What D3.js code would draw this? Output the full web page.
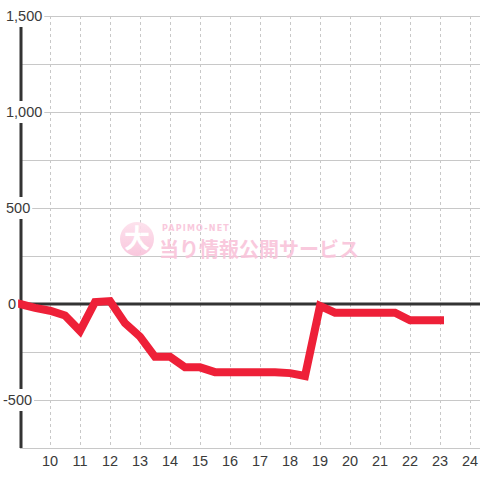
<!DOCTYPE html>
<html><head><meta charset="utf-8">
<script src="https://cdn.jsdelivr.net/npm/d3@7"></script>
<style>html,body{margin:0;padding:0;background:#fff;}svg{display:block;}</style>
</head><body>
<script>
const hours = [9,9.5,10,10.5,11,11.5,12,12.5,13,13.5,14,14.5,15,15.5,16,16.5,17,17.5,18,18.5,19,19.5,20,20.5,21,21.5,22,22.5,23];
const values = [0,-20,-35,-60,-140,10,15,-100,-170,-275,-275,-330,-330,-355,-355,-355,-355,-355,-360,-375,-10,-45,-45,-45,-45,-45,-85,-85,-85];
const xTicks = [10,11,12,13,14,15,16,17,18,19,20,21,22,23,24];
const yGrid = [-500,-250,0,250,500,750,1000,1250,1500];
const yLabels = [-500,0,500,1000,1500];

const W=480,H=480;
const x = d3.scaleLinear().domain([9, 9+460/30]).range([20,480]);
const y = d3.scaleLinear().domain([-750,1500]).range([448,16]);
const svg = d3.select("body").append("svg").attr("width",W).attr("height",H);
svg.append("rect").attr("width",W).attr("height",H).attr("fill","#fff");

// horizontal grid
svg.append("g").selectAll("line").data(yGrid).join("line")
  .attr("x1",20).attr("x2",480).attr("y1",d=>y(d)).attr("y2",d=>y(d))
  .attr("stroke","#c8c8c8").attr("stroke-width",1).attr("shape-rendering","crispEdges");
// vertical dashed grid
svg.append("g").selectAll("line").data(xTicks).join("line")
  .attr("x1",d=>x(d)).attr("x2",d=>x(d)).attr("y1",16).attr("y2",448)
  .attr("stroke","#c8c8c8").attr("stroke-width",1).attr("stroke-dasharray","3,3").attr("shape-rendering","crispEdges");
// bottom axis line
svg.append("line").attr("x1",20).attr("x2",480).attr("y1",448.5).attr("y2",448.5).attr("stroke","#c8c8c8");

// watermark
const wm = svg.append("g").attr("opacity",0.9);
const grad = svg.append("defs").append("linearGradient").attr("id","wg").attr("x1","0").attr("y1","0").attr("x2","0").attr("y2","1");
grad.append("stop").attr("offset","0").attr("stop-color","#fde0ec");
grad.append("stop").attr("offset","1").attr("stop-color","#f9c2da");
wm.append("circle").attr("cx",137).attr("cy",239).attr("r",17).attr("fill","url(#wg)");
wm.append("text").attr("x",137).attr("y",248).attr("text-anchor","middle").attr("font-family","Noto Sans CJK JP").attr("font-weight","bold").attr("font-size",26).attr("fill","#fff").text("大");
wm.append("text").attr("x",162).attr("y",231).attr("font-family","DejaVu Sans").attr("font-weight","bold").attr("font-size",8).attr("letter-spacing",1.2).attr("fill","#f9c4da").text("PAPIMO-NET");
wm.append("text").attr("x",159).attr("y",257).attr("font-family","Noto Sans CJK JP").attr("font-weight","bold").attr("font-size",20).attr("fill","#f9c4da").text("当り情報公開サービス");

// zero line
svg.append("line").attr("x1",20).attr("x2",480).attr("y1",y(0)).attr("y2",y(0)).attr("stroke","#333").attr("stroke-width",3);

// y axis line
svg.append("line").attr("x1",21).attr("x2",21).attr("y1",16).attr("y2",448).attr("stroke","#333").attr("stroke-width",3);

// data line
const line = d3.line().x((d,i)=>x(hours[i])).y(d=>y(d));
svg.append("path").attr("d",line(values)).attr("fill","none").attr("stroke","#ee2038")
  .attr("stroke-width",8).attr("stroke-linejoin","miter").attr("stroke-linecap","square");

// y labels with background
const fmt = d3.format(",");
const yl = svg.append("g").selectAll("g").data(yLabels).join("g");
yl.each(function(d){
  const g=d3.select(this);
  const t=g.append("text").attr("x",d===0?8:(d<0?3:6)).attr("y",y(d)+5).attr("font-family","Liberation Sans, Arial, sans-serif").attr("font-size",14.5).attr("fill","#3a3a3a").text(fmt(d).replace("−","-"));
  const bb=t.node().getBBox();
  g.insert("rect","text").attr("x",bb.x-2).attr("y",y(d)-11).attr("width",bb.width+4).attr("height",22).attr("fill","#fff");
});

// x labels
svg.append("g").selectAll("text").data(xTicks).join("text")
  .attr("x",d=>x(d)).attr("y",466).attr("text-anchor","middle")
  .attr("font-family","Liberation Sans, Arial, sans-serif").attr("font-size",14.5).attr("fill","#3a3a3a").text(d=>d);
</script>
</body></html>
